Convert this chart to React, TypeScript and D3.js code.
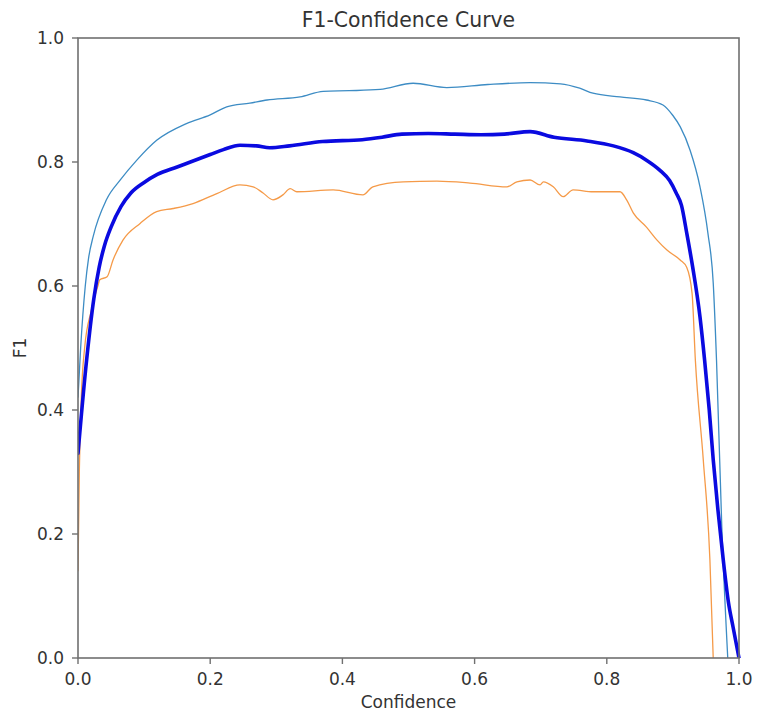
import React from "react";
import * as d3 from "d3";

const xTicks = [0, 0.2, 0.4, 0.6, 0.8, 1.0];
const yTicks = [0, 0.2, 0.4, 0.6, 0.8, 1.0];

// class 0 (light blue)
const class0X = [0, 0.004, 0.011, 0.016, 0.023, 0.043, 0.064, 0.089, 0.119, 0.164, 0.2, 0.225, 0.26, 0.286, 0.336, 0.371, 0.41, 0.457, 0.507, 0.558, 0.62, 0.684, 0.73, 0.759, 0.779, 0.82, 0.86, 0.885, 0.9, 0.911, 0.926, 0.941, 0.953, 0.961, 0.966, 0.974, 0.983];
const class0Y = [0.42, 0.5, 0.6, 0.645, 0.68, 0.739, 0.771, 0.803, 0.835, 0.862, 0.876, 0.889, 0.895, 0.9, 0.905, 0.914, 0.915, 0.917, 0.927, 0.92, 0.925, 0.928, 0.926, 0.919, 0.911, 0.905, 0.9, 0.892, 0.875, 0.857, 0.819, 0.76, 0.685, 0.605, 0.48, 0.211, 0.0];

// class 1 (orange)
const class1X = [0, 0.002, 0.005, 0.01, 0.02, 0.03, 0.033, 0.044, 0.053, 0.068, 0.094, 0.119, 0.144, 0.174, 0.21, 0.245, 0.265, 0.28, 0.295, 0.31, 0.321, 0.331, 0.386, 0.431, 0.446, 0.492, 0.543, 0.593, 0.649, 0.664, 0.684, 0.699, 0.704, 0.719, 0.734, 0.749, 0.779, 0.82, 0.83, 0.84, 0.86, 0.876, 0.891, 0.911, 0.921, 0.929, 0.934, 0.946, 0.956, 0.961];
const class1Y = [0.14, 0.3, 0.42, 0.5, 0.56, 0.6, 0.61, 0.615, 0.642, 0.674, 0.701, 0.72, 0.725, 0.733, 0.749, 0.763, 0.76, 0.75, 0.739, 0.747, 0.757, 0.752, 0.755, 0.747, 0.76, 0.768, 0.769, 0.766, 0.76, 0.768, 0.771, 0.763, 0.768, 0.76, 0.744, 0.755, 0.752, 0.752, 0.739, 0.718, 0.695, 0.674, 0.658, 0.642, 0.63, 0.588, 0.48, 0.319, 0.158, 0.0];

// all classes (thick blue)
const allX = [0, 0.012, 0.024, 0.032, 0.04, 0.05, 0.065, 0.08, 0.1, 0.12, 0.15, 0.17, 0.2, 0.22, 0.245, 0.27, 0.29, 0.32, 0.37, 0.43, 0.46, 0.49, 0.53, 0.57, 0.61, 0.645, 0.684, 0.72, 0.77, 0.81, 0.84, 0.86, 0.88, 0.895, 0.905, 0.913, 0.921, 0.93, 0.941, 0.948, 0.955, 0.961, 0.968, 0.976, 0.984, 0.991, 1.0];
const allY = [0.33, 0.47, 0.58, 0.63, 0.665, 0.695, 0.728, 0.75, 0.767, 0.78, 0.792, 0.8, 0.812, 0.82, 0.827, 0.826, 0.823, 0.826, 0.833, 0.836, 0.84, 0.845, 0.846, 0.845, 0.844, 0.845, 0.849, 0.84, 0.834, 0.826, 0.815, 0.803, 0.787, 0.77, 0.75, 0.73, 0.685, 0.63, 0.55, 0.48, 0.4, 0.32, 0.24, 0.16, 0.09, 0.05, 0.0];

const W = 759;
const H = 719;
const left = 78;
const right = 739;
const top = 38;
const bottom = 658;
const FONT = "'DejaVu Sans', sans-serif";

export default function App() {
  const x = d3.scaleLinear().domain([0, 1]).range([left, right]);
  const y = d3.scaleLinear().domain([0, 1]).range([bottom, top]);
  const line = d3
    .line<[number, number]>()
    .x((d) => x(d[0]))
    .y((d) => y(d[1]))
    .curve(d3.curveMonotoneX);
  const zip = (a: number[], b: number[]) => a.map((v, i) => [v, b[i]] as [number, number]);

  return (
    <svg
      width={W}
      height={H}
      style={{ position: "absolute", left: 0, top: 0, background: "#fff" }}
      fontFamily={FONT}
    >
      <rect x={0} y={0} width={W} height={H} fill="#fff" />
      <defs>
        <clipPath id="plotClip">
          <rect x={left} y={top - 3} width={right - left + 3} height={bottom - top + 3} />
        </clipPath>
      </defs>
      <g clipPath="url(#plotClip)">
        <path d={line(zip(class0X, class0Y)) || ""} fill="none" stroke="#3d8cc4" strokeWidth={1.3} strokeLinejoin="round" />
        <path d={line(zip(class1X, class1Y)) || ""} fill="none" stroke="#f59a48" strokeWidth={1.3} strokeLinejoin="round" />
        <path d={line(zip(allX, allY)) || ""} fill="none" stroke="#0a0ae0" strokeWidth={3.6} strokeLinejoin="round" strokeLinecap="round" />
      </g>
      <rect x={left} y={top} width={right - left} height={bottom - top} fill="none" stroke="#707070" strokeWidth={1.6} />
      {xTicks.map((t) => (
        <g key={"x" + t}>
          <line x1={x(t)} x2={x(t)} y1={bottom} y2={bottom + 6} stroke="#707070" strokeWidth={1.4} />
          <text x={x(t)} y={685} textAnchor="middle" fontSize={17} fill="#333">
            {t.toFixed(1)}
          </text>
        </g>
      ))}
      {yTicks.map((t) => (
        <g key={"y" + t}>
          <line x1={left - 6} x2={left} y1={y(t)} y2={y(t)} stroke="#707070" strokeWidth={1.4} />
          <text x={64} y={y(t) + 6} textAnchor="end" fontSize={17} fill="#333">
            {t.toFixed(1)}
          </text>
        </g>
      ))}
      <text x={(left + right) / 2} y={708} textAnchor="middle" fontSize={17} fill="#333">
        Confidence
      </text>
      <text
        transform={`translate(26, ${(top + bottom) / 2}) rotate(-90)`}
        textAnchor="middle"
        fontSize={17}
        fill="#333"
      >
        F1
      </text>
      <text x={(left + right) / 2} y={27} textAnchor="middle" fontSize={20.4} fill="#333">
        F1-Confidence Curve
      </text>
    </svg>
  );
}
